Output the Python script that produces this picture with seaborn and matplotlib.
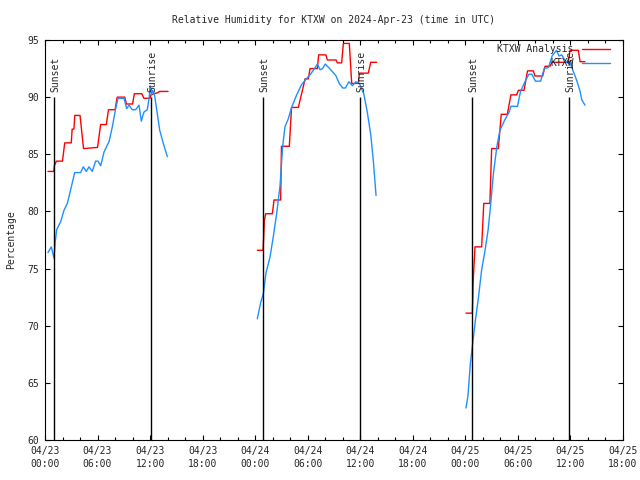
import matplotlib
matplotlib.use("Agg")
import matplotlib.pyplot as plt
from matplotlib.lines import Line2D
from matplotlib.ticker import MultipleLocator, FixedLocator
import numpy as np
import pandas as pd
import seaborn as sns

# hours after 2024-04-23 00:00 UTC
analysis_hours = [
    [0.34, 1.0, 1.07, 1.3, 2.0, 2.25, 3.0, 3.1, 3.3, 3.4, 4.0, 4.4, 6.0, 6.35,
     7.0, 7.25, 8.0, 8.25, 9.1, 9.3, 10.0, 10.2, 11.05, 11.3, 12.0, 12.1, 12.9,
     13.1, 14.05],
    [24.24, 24.9, 25.05, 25.2, 25.96, 26.15, 26.91, 27.0, 27.9, 28.15, 28.93,
     29.3, 29.7, 30.07, 30.26, 31.1, 31.25, 32.08, 32.24, 33.23, 33.38, 33.87,
     34.07, 34.75, 35.02, 35.78, 35.9, 36.92, 37.19, 37.87],
    [48.07, 48.8, 48.9, 49.1, 49.86, 50.1, 50.8, 51.0, 51.76, 52.1, 52.79, 53.2,
     53.86, 54.05, 54.7, 55.1, 55.76, 55.95, 56.83, 57.1, 57.66, 57.86, 59.75,
     59.95, 60.9, 61.1, 61.66],
]
analysis_rh = [
    [83.5, 83.5, 84.0, 84.4, 84.4, 86.0, 86.0, 87.2, 87.2, 88.4, 88.4, 85.5,
     85.6, 87.6, 87.6, 88.9, 88.9, 90.0, 90.0, 89.4, 89.4, 90.3, 90.3, 89.9,
     89.9, 90.2, 90.4, 90.5, 90.5],
    [76.6, 76.6, 79.2, 79.8, 79.8, 81.0, 81.0, 85.7, 85.7, 89.1, 89.1, 90.3,
     91.6, 91.6, 92.5, 92.5, 93.7, 93.7, 93.25, 93.25, 93.0, 93.0, 94.7, 94.7,
     91.2, 91.2, 92.1, 92.1, 93.05, 93.05],
    [71.1, 71.1, 74.0, 76.9, 76.9, 80.7, 80.7, 85.5, 85.5, 88.5, 88.5, 90.2,
     90.2, 90.6, 90.6, 92.3, 92.3, 91.85, 91.85, 92.7, 92.7, 93.05, 93.05, 94.1,
     94.1, 93.1, 93.1],
]

obs_hours = [
    [0.34, 0.72, 1.03, 1.15, 1.33, 1.79, 2.17, 2.55, 2.93, 3.39, 4.07, 4.37,
     4.72, 5.02, 5.40, 5.78, 6.05, 6.36, 6.74, 7.31, 7.69, 8.07, 8.34, 9.02,
     9.33, 9.59, 9.97, 10.35, 10.73, 11.0, 11.3, 11.68, 11.9, 12.0, 12.15, 12.3,
     12.5, 12.7, 13.1, 13.6, 13.97],
    [24.24, 24.62, 24.93, 25.23, 25.69, 26.07, 26.45, 26.83, 27.14, 27.4, 27.78,
     28.16, 28.74, 29.3, 29.57, 30.3, 30.7, 31.1, 31.4, 31.7, 32.0, 32.5, 33.2,
     33.6, 34.0, 34.3, 34.7, 35.1, 35.5, 35.9, 36.4, 36.8, 37.2, 37.5, 37.8],
    [48.07, 48.3, 48.57, 48.8, 49.1, 49.5, 49.86, 50.25, 50.6, 50.9, 51.2, 51.6,
     51.95, 52.5, 53.0, 53.2, 53.95, 54.3, 54.9, 55.25, 55.6, 56.0, 56.6, 57.0,
     57.5, 57.9, 58.4, 58.7, 59.0, 59.3, 59.6, 59.9, 60.3, 60.7, 61.1, 61.3,
     61.66],
]
obs_rh = [
    [76.4, 76.9, 75.9, 77.2, 78.4, 79.1, 80.1, 80.7, 81.9, 83.4, 83.4, 83.9,
     83.5, 83.9, 83.5, 84.4, 84.4, 84.0, 85.2, 86.1, 87.4, 89.0, 89.9, 89.9,
     89.0, 89.3, 88.9, 88.9, 89.3, 87.9, 88.7, 88.9, 90.0, 91.0, 90.2, 90.6,
     90.2, 89.2, 87.1, 85.7, 84.8],
    [70.6, 72.0, 72.8, 74.6, 76.0, 77.8, 79.8, 82.2, 85.7, 87.4, 88.1, 89.1,
     90.2, 91.1, 91.35, 92.0, 92.4, 92.9, 92.4, 92.5, 92.9, 92.5, 91.9, 91.2,
     90.8, 90.8, 91.35, 91.0, 91.35, 91.2, 90.3, 88.7, 86.7, 84.35, 81.4],
    [62.8, 63.9, 66.7, 68.2, 70.2, 72.5, 74.9, 76.6, 78.4, 80.7, 83.3, 85.7,
     87.1, 88.0, 88.7, 89.2, 89.2, 90.5, 91.5, 92.0, 92.0, 91.4, 91.4, 92.5,
     92.6, 93.6, 94.1, 93.6, 93.7, 93.3, 93.0, 93.1, 92.3, 91.5, 90.5, 89.75,
     89.3],
]

sunset_hours = [1.0, 24.9, 48.8]
sunrise_hours = [12.13, 35.96, 59.86]

tick_hours = [0, 6, 12, 18, 24, 30, 36, 42, 48, 54, 60, 66]
tick_labels = ["04/23\n00:00", "04/23\n06:00", "04/23\n12:00", "04/23\n18:00",
               "04/24\n00:00", "04/24\n06:00", "04/24\n12:00", "04/24\n18:00",
               "04/25\n00:00", "04/25\n06:00", "04/25\n12:00", "04/25\n18:00"]


def to_frame(hours, values):
    rows = []
    for seg, (hh, vv) in enumerate(zip(hours, values)):
        for h, v in zip(hh, vv):
            rows.append({"hour": h, "rh": v, "seg": seg})
    return pd.DataFrame(rows)


sns.set_style("ticks")
plt.rcParams["font.family"] = ["DejaVu Sans Mono"]
plt.rcParams["font.size"] = 7

RED = "#ff0000"
BLUE = "#1e90ff"

fig = plt.figure(figsize=(6.4, 4.8), dpi=100)
ax = fig.add_axes([45 / 640, 40 / 480, 578 / 640, 400 / 480])

analysis_df = to_frame(analysis_hours, analysis_rh)
obs_df = to_frame(obs_hours, obs_rh)
sns.lineplot(data=analysis_df, x="hour", y="rh", units="seg", estimator=None,
             sort=False, color=RED, linewidth=1.0, ax=ax)
sns.lineplot(data=obs_df, x="hour", y="rh", units="seg", estimator=None,
             sort=False, color=BLUE, linewidth=1.0, ax=ax)

for h in sunset_hours:
    ax.vlines(h, 60, 90, color="black", linewidth=1.0)
    ax.text(h + 0.15, 90.45, "Sunset", rotation=90, ha="center", va="bottom", fontsize=7)
for h in sunrise_hours:
    ax.vlines(h, 60, 90, color="black", linewidth=1.0)
    ax.text(h + 0.15, 90.45, "Sunrise", rotation=90, ha="center", va="bottom", fontsize=7)

ax.set_xlim(0, 66)
ax.set_ylim(60, 95)
ax.xaxis.set_major_locator(FixedLocator(tick_hours))
ax.set_xticklabels(tick_labels, linespacing=1.4)
ax.xaxis.set_minor_locator(MultipleLocator(2))
ax.yaxis.set_major_locator(MultipleLocator(5))
ax.tick_params(which="both", direction="in", top=True, right=True,
               color="black", width=0.8, labelsize=7)
ax.tick_params(which="major", length=3.5, pad=4)
ax.tick_params(which="minor", length=2)
for s in ax.spines.values():
    s.set_color("black")
    s.set_linewidth(0.8)

ax.set_xlabel("")
ax.set_ylabel("Percentage", fontsize=7, labelpad=8)
ax.set_title("Relative Humidity for KTXW on 2024-Apr-23 (time in UTC)",
             fontsize=7, pad=12)

handles = [Line2D([], [], color=RED, linewidth=1.0),
           Line2D([], [], color=BLUE, linewidth=1.0)]
ax.legend(handles, ["KTXW Analysis", "KTXW"], loc="upper right",
          bbox_to_anchor=(0.977, 0.99), frameon=False, markerfirst=False,
          borderaxespad=0, borderpad=0, handlelength=2.9, handletextpad=0.8,
          labelspacing=0.45, fontsize=7)

fig.savefig("out.png", dpi=100)
